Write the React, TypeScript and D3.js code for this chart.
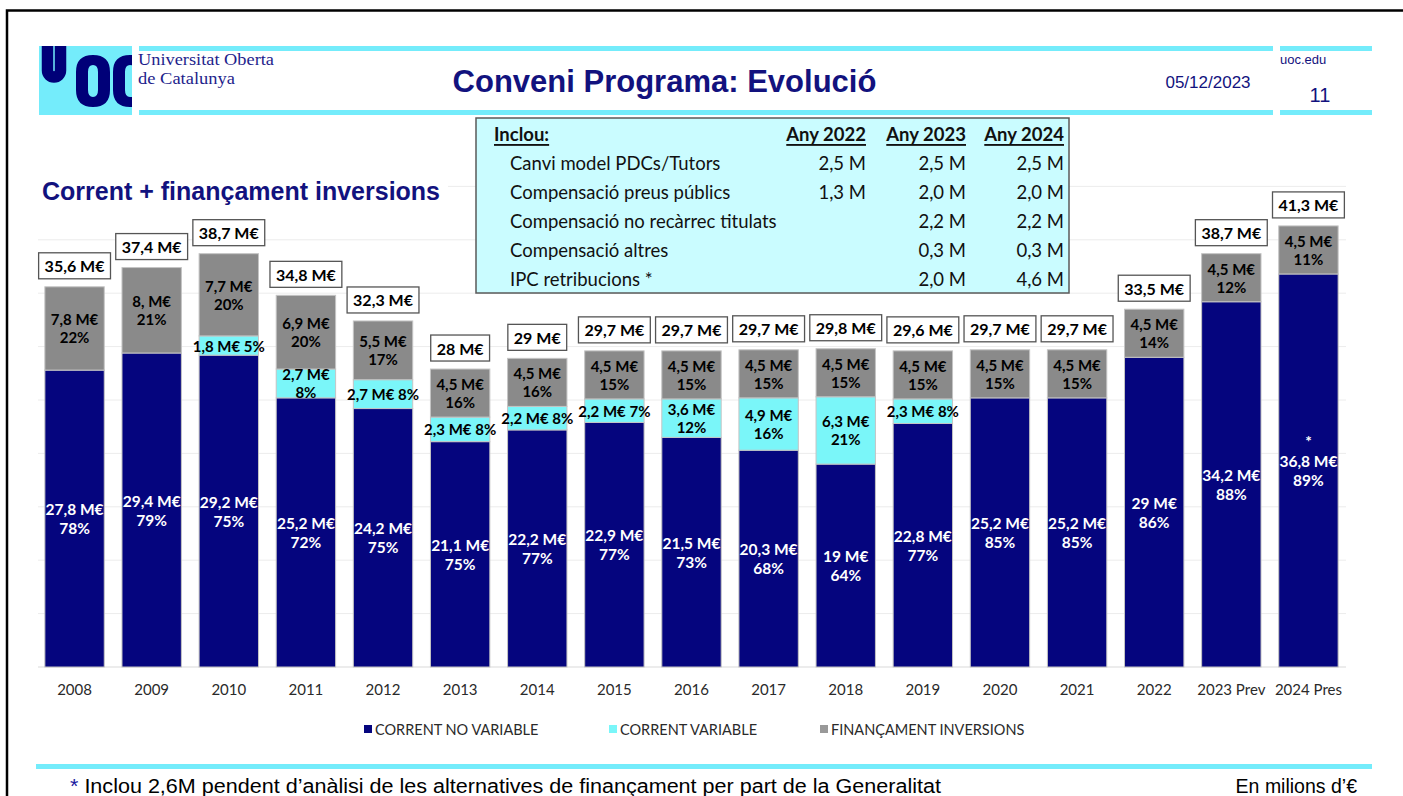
import React from "react";
import * as d3 from "d3";

const years = ["2008","2009","2010","2011","2012","2013","2014","2015","2016","2017","2018","2019","2020","2021","2022","2023 Prev","2024 Pres"];
const correntNoVariable = [27.8,29.4,29.2,25.2,24.2,21.1,22.2,22.9,21.5,20.3,19,22.8,25.2,25.2,29,34.2,36.8];
const correntVariable = [0,0,1.8,2.7,2.7,2.3,2.2,2.2,3.6,4.9,6.3,2.3,0,0,0,0,0];
const financamentInversions = [7.8,8,7.7,6.9,5.5,4.5,4.5,4.5,4.5,4.5,4.5,4.5,4.5,4.5,4.5,4.5,4.5];
const totals = [35.6,37.4,38.7,34.8,32.3,28,29,29.7,29.7,29.7,29.8,29.6,29.7,29.7,33.5,38.7,41.3];
const pctNoVariable = [78,79,75,72,75,75,77,77,73,68,64,77,85,85,86,88,89];
const pctVariable = [0,0,5,8,8,8,8,7,12,16,21,8,0,0,0,0,0];
const pctInversions = [22,21,20,20,17,16,16,15,15,15,15,15,15,15,14,12,11];
const inversionsLabels = ["7,8 M€","8, M€","7,7 M€","6,9 M€","5,5 M€","4,5 M€","4,5 M€","4,5 M€","4,5 M€","4,5 M€","4,5 M€","4,5 M€","4,5 M€","4,5 M€","4,5 M€","4,5 M€","4,5 M€"];
const variableTwoLine = ["2011","2016","2017","2018"];
const yTicks = [0,5,10,15,20,25,30,35,40,45];

const seriesNames = ["CORRENT NO VARIABLE","CORRENT VARIABLE","FINANÇAMENT INVERSIONS"];
const seriesColors = ["#05057e","#7af6f9","#8a8a8a"];
const legendColors = ["#05057e","#7af6f9","#999999"];

const tableRows = ["Canvi model PDCs/Tutors","Compensació preus públics","Compensació no recàrrec titulats","Compensació altres","IPC retribucions *"];
const tableHeaders = ["Any 2022","Any 2023","Any 2024"];
const any2022 = ["2,5 M","1,3 M","","",""];
const any2023 = ["2,5 M","2,0 M","2,2 M","0,3 M","2,0 M"];
const any2024 = ["2,5 M","2,0 M","2,2 M","0,3 M","4,6 M"];

const W = 1403, H = 796;
const LF = "Lato, 'Open Sans', sans-serif";
const AF = "'Liberation Sans', Arial, sans-serif";
const NAVY_T = "#12127e";
const CYAN_L = "#74ecfb";

const fmt = (v: number) => String(v).replace(".", ",") + " M€";

let ctx: CanvasRenderingContext2D | null = null;
function measure(text: string, font: string) {
  if (!ctx) ctx = document.createElement("canvas").getContext("2d");
  if (!ctx) return text.length * 9;
  ctx.font = font;
  return ctx.measureText(text).width;
}

export default function App() {
  const x = d3.scaleBand<string>().domain(years).range([36, 1347]).paddingInner(0.23).paddingOuter(0.115);
  const y = d3.scaleLinear().domain([0, 45]).range([667, 667 - 45 * 10.68]);
  const bw = x.bandwidth();

  const stackData = years.map((yr, i) => ({ yr, a: correntNoVariable[i], b: correntVariable[i], c: financamentInversions[i] }));
  const stack = d3.stack<any>().keys(["a", "b", "c"])(stackData);

  const totalFont = `bold 16px ${LF}`;
  const colX = [866, 966, 1064];

  return (
    <svg width={W} height={H} style={{ position: "absolute", left: 0, top: 0, background: "#fff" }}>
      {/* frame */}
      <rect x={7} y={10.5} width={1410} height={800} fill="none" stroke="#000" strokeWidth={2.5} />

      {/* logo */}
      <rect x={39} y={46} width={93} height={69} fill={CYAN_L} />
      <clipPath id="logoclip"><rect x={39} y={46} width={93} height={69} /></clipPath>
      <g clipPath="url(#logoclip)">
        <path d="M47.5,40 V70.5 A6.5,6.5 0 0 0 60.5,70.5 V40" fill="none" stroke="#000078" strokeWidth={11.5} />
        <g fill="#000078" fillRule="evenodd">
          <path d="M76,72 Q76,55 93,55 Q110,55 110,72 V90 Q110,107 93,107 Q76,107 76,90 Z M88,72 Q88,65 93,65 Q98,65 98,72 V90 Q98,97 93,97 Q88,97 88,90 Z" />
          <path d="M113,72 Q113,55 130,55 Q147,55 147,72 V90 Q147,107 130,107 Q113,107 113,90 Z M125,72 Q125,65 130,65 Q135,65 135,72 V90 Q135,97 130,97 Q125,97 125,90 Z" />
        </g>
      </g>
      <text x={138} y={65} fontFamily="'Liberation Serif', 'DejaVu Serif', serif" fontSize={16.5} fill="#1e1e8c" textLength={136} lengthAdjust="spacingAndGlyphs">Universitat Oberta</text>
      <text x={138} y={83.5} fontFamily="'Liberation Serif', 'DejaVu Serif', serif" fontSize={16.5} fill="#1e1e8c" textLength={97} lengthAdjust="spacingAndGlyphs">de Catalunya</text>

      {/* header lines */}
      <rect x={139} y={46} width={1134} height={5} fill={CYAN_L} />
      <rect x={139} y={110} width={1134} height={5} fill={CYAN_L} />
      <rect x={1280} y={46} width={92} height={5} fill={CYAN_L} />
      <rect x={1280} y={110} width={92} height={5} fill={CYAN_L} />
      <text x={664.5} y={92} textAnchor="middle" fontFamily={AF} fontWeight="bold" fontSize={31} fill={NAVY_T}>Conveni Programa: Evolució</text>
      <text x={1208} y={88} textAnchor="middle" fontFamily={AF} fontSize={17} fill={NAVY_T}>05/12/2023</text>
      <text x={1280} y={64} fontFamily={AF} fontSize={13} fill={NAVY_T}>uoc.edu</text>
      <text x={1320} y={102} textAnchor="middle" fontFamily={AF} fontSize={20} fill={NAVY_T}>11</text>

      {/* gridlines */}
      {yTicks.map(t => (
        <line key={t} x1={38} x2={1346} y1={y(t)} y2={y(t)} stroke={t === 0 ? "#d9d9d9" : "#ececec"} strokeWidth={1} />
      ))}

      {/* subtitle */}
      <rect x={36} y={176} width={412} height={30} fill="#fff" />
      <text x={42} y={200} fontFamily={AF} fontWeight="bold" fontSize={25} fill={NAVY_T}>Corrent + finançament inversions</text>

      {/* bars */}
      {stack.map((layer, si) => (
        <g key={si} fill={seriesColors[si]}>
          {layer.map((d, i) => (d[1] - d[0] > 0 ? (
            <rect key={i} x={x(years[i])!} y={y(d[1])} width={bw} height={y(d[0]) - y(d[1])} stroke="#c4c4c4" strokeWidth={1} />
          ) : null))}
        </g>
      ))}

      {/* segment labels */}
      {years.map((yr, i) => {
        const cx = x(yr)! + bw / 2;
        const a1 = correntNoVariable[i];
        const b1 = a1 + correntVariable[i];
        const c1 = b1 + financamentInversions[i];
        const ma = (y(0) + y(a1)) / 2;
        const mb = (y(a1) + y(b1)) / 2;
        const mc = (y(b1) + y(c1)) / 2;
        const els: any[] = [];
        const common = { textAnchor: "middle" as const, dominantBaseline: "central" as const, fontFamily: LF, fontWeight: "bold" };
        if (yr === "2024 Pres") {
          els.push(<text key="ast" x={cx} y={ma - 29} {...common} fontSize={15.5} fill="#fff">*</text>);
        }
        els.push(<text key="a1" x={cx} y={ma - 9.5} {...common} fontSize={15.5} fill="#fff">{fmt(correntNoVariable[i])}</text>);
        els.push(<text key="a2" x={cx} y={ma + 9.5} {...common} fontSize={15.5} fill="#fff">{pctNoVariable[i]}%</text>);
        if (correntVariable[i] > 0) {
          if (variableTwoLine.includes(yr)) {
            els.push(<text key="b1" x={cx} y={mb - 9} {...common} fontSize={15} fill="#000">{fmt(correntVariable[i])}</text>);
            els.push(<text key="b2" x={cx} y={mb + 9} {...common} fontSize={15} fill="#000">{pctVariable[i]}%</text>);
          } else {
            els.push(<text key="b1" x={cx} y={mb} {...common} fontSize={15} fill="#000">{fmt(correntVariable[i])} {pctVariable[i]}%</text>);
          }
        }
        els.push(<text key="c1" x={cx} y={mc - 9} {...common} fontSize={15} fill="#000">{inversionsLabels[i]}</text>);
        els.push(<text key="c2" x={cx} y={mc + 9} {...common} fontSize={15} fill="#000">{pctInversions[i]}%</text>);
        const tt = fmt(totals[i]);
        const tw = measure(tt, totalFont) + 12;
        const by = y(c1) - 8;
        els.push(<rect key="tb" x={cx - tw / 2} y={by - 26} width={tw} height={26} fill="#fff" stroke="#555" strokeWidth={1.3} />);
        els.push(<text key="tt" x={cx} y={by - 13} {...common} fontSize={16} fill="#000">{tt}</text>);
        return <g key={yr}>{els}</g>;
      })}

      {/* x axis labels */}
      {years.map(yr => (
        <text key={yr} x={x(yr)! + bw / 2} y={689} textAnchor="middle" dominantBaseline="central" fontFamily={LF} fontSize={15} fill="#2a2a2a">{yr}</text>
      ))}

      {/* legend */}
      {seriesNames.map((n, i) => {
        const lx = [364, 609, 820][i];
        return (
          <g key={n}>
            <rect x={lx} y={725} width={8} height={8} fill={legendColors[i]} />
            <text x={lx + 11} y={729.5} dominantBaseline="central" fontFamily={LF} fontSize={14.5} fill="#2a2a2a">{n}</text>
          </g>
        );
      })}

      {/* table */}
      <rect x={476} y={118} width={593} height={175} fill="#cafcff" stroke="#5a5a5a" strokeWidth={1.5} />
      <text x={494} y={134} dominantBaseline="central" fontFamily={LF} fontWeight="bold" fontSize={18.5} fill="#111" style={{ textDecoration: "underline" }}>Inclou:</text>
      {tableHeaders.map((h, j) => (
        <text key={h} x={colX[j]} y={134} textAnchor="end" dominantBaseline="central" fontFamily={LF} fontWeight="bold" fontSize={18.5} fill="#111" style={{ textDecoration: "underline" }}>{h}</text>
      ))}
      {tableRows.map((r, k) => {
        const ry = 163 + k * 29;
        return (
          <g key={r}>
            <text x={510} y={ry} dominantBaseline="central" fontFamily={LF} fontSize={18.5} fill="#111">{r}</text>
            {[any2022[k], any2023[k], any2024[k]].map((v, j) => (
              <text key={j} x={colX[j]} y={ry} textAnchor="end" dominantBaseline="central" fontFamily={LF} fontSize={18.5} fill="#111">{v}</text>
            ))}
          </g>
        );
      })}

      {/* footer */}
      <rect x={36} y={764} width={1336} height={5} fill={CYAN_L} />
      <text x={70} y={793} fontFamily={AF} fontSize={19.5} fill="#000" textLength={871} lengthAdjust="spacingAndGlyphs"><tspan fill="#1a1aa0">*</tspan> Inclou 2,6M pendent d’anàlisi de les alternatives de finançament per part de la Generalitat</text>
      <text x={1357} y={793} textAnchor="end" fontFamily={AF} fontSize={19.5} fill="#000">En milions d’€</text>
    </svg>
  );
}
